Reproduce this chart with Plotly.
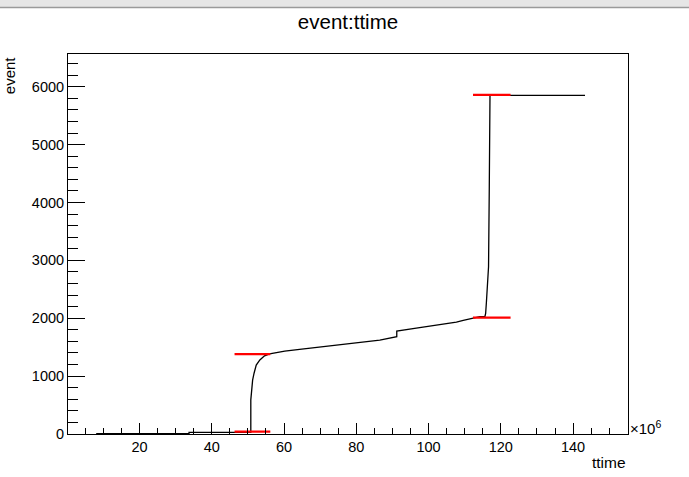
"""
event:ttime - ROOT 风格的累计事件曲线
"""

import plotly.graph_objects as go

# 数据 (ttime 单位: 1e6)
ttime = [8.0, 33.7, 33.7, 50.8, 50.8, 51.0, 51.3, 51.7, 52.3, 53.3, 54.6,
         56.0, 57.4, 60.2, 64.3, 69.9, 75.4, 81.0, 86.5, 91.2, 91.2, 96.6,
         102.2, 107.7, 109.6, 112.3, 114.2, 115.6, 115.8, 116.0, 116.3,
         116.6, 116.8, 117.0, 143.3]
event = [5, 5, 28, 28, 590, 760, 930, 1050, 1190, 1280, 1350,
         1385, 1405, 1433, 1463, 1503, 1543, 1577, 1623, 1680, 1779, 1831,
         1877, 1934, 1964, 1998, 2026, 2030, 2085, 2268, 2516,
         2890, 4214, 5850, 5850]

# 红色标记线
mark_x0 = [46.3, 46.3, 112.3, 112.3]
mark_x1 = [56.2, 56.2, 122.7, 122.7]
mark_y = [40, 1380, 2009, 5860]

x_range = [0.2, 155.2]
y_range = [0, 6565]

FONT = "Liberation Sans, Arial, Helvetica, sans-serif"

fig = go.Figure()

fig.add_trace(go.Scatter(
    x=ttime, y=event, mode='lines',
    line=dict(color='black', width=1.3),
    showlegend=False, hoverinfo='skip'
))

# 红线段 (用 None 分隔)
seg_x, seg_y = [], []
for x0, x1, y in zip(mark_x0, mark_x1, mark_y):
    seg_x += [x0, x1, None]
    seg_y += [y, y, None]

fig.add_trace(go.Scatter(
    x=seg_x, y=seg_y, mode='lines',
    line=dict(color='#ff0000', width=2.2),
    showlegend=False, hoverinfo='skip'
))

axis_common = dict(
    showgrid=False, zeroline=False,
    showline=True, linecolor='black', linewidth=1, mirror=True,
    ticks='inside', tickcolor='black', tickwidth=1,
    tickfont=dict(family=FONT, size=14.5, color='black'),
)

fig.update_xaxes(
    range=x_range, tickmode='linear', tick0=0, dtick=20, ticklen=11,
    minor=dict(ticks='inside', dtick=5, ticklen=6, tickcolor='black'),
    **axis_common
)
fig.update_yaxes(
    range=y_range, tickmode='linear', tick0=0, dtick=1000, ticklen=17,
    minor=dict(ticks='inside', dtick=200, ticklen=10, tickcolor='black'),
    **axis_common
)

fig.update_layout(
    width=689, height=477,
    margin=dict(l=68, r=61, t=54, b=43),
    paper_bgcolor='white', plot_bgcolor='white',
    title=dict(text='event:ttime', x=0.5, xref='paper', y=0.954,
               yanchor='middle', font=dict(family=FONT, size=20.5, color='black')),
    annotations=[
        dict(text='ttime', xref='paper', yref='paper', x=1.0, y=-0.074,
             xanchor='right', yanchor='middle', showarrow=False,
             font=dict(family=FONT, size=15.5, color='black')),
        dict(text='event', xref='paper', yref='paper', x=-0.105, y=1.0,
             xanchor='center', yanchor='top', textangle=-90, showarrow=False,
             font=dict(family=FONT, size=15, color='black')),
        dict(text='×10<sup>6</sup>', xref='paper', yref='paper', x=1.0, y=0.018,
             xanchor='left', yanchor='middle', showarrow=False,
             font=dict(family=FONT, size=15, color='black')),
    ],
    shapes=[
        # 窗口顶部灰条
        dict(type='rect', xref='paper', yref='paper',
             x0=-0.125, x1=1.115, y0=1.1237, y1=1.15,
             fillcolor='#e6e6e6', line=dict(width=0), layer='above'),
        dict(type='line', xref='paper', yref='paper',
             x0=-0.125, x1=1.115, y0=1.1224, y1=1.1224,
             line=dict(color='#9a9a9a', width=1.5), layer='above'),
    ],
)

# 去掉页面默认边距, 让图贴齐窗口左上角
fig.write_html("out.html", config={'displayModeBar': False},
               post_script="document.body.style.margin='0';")
